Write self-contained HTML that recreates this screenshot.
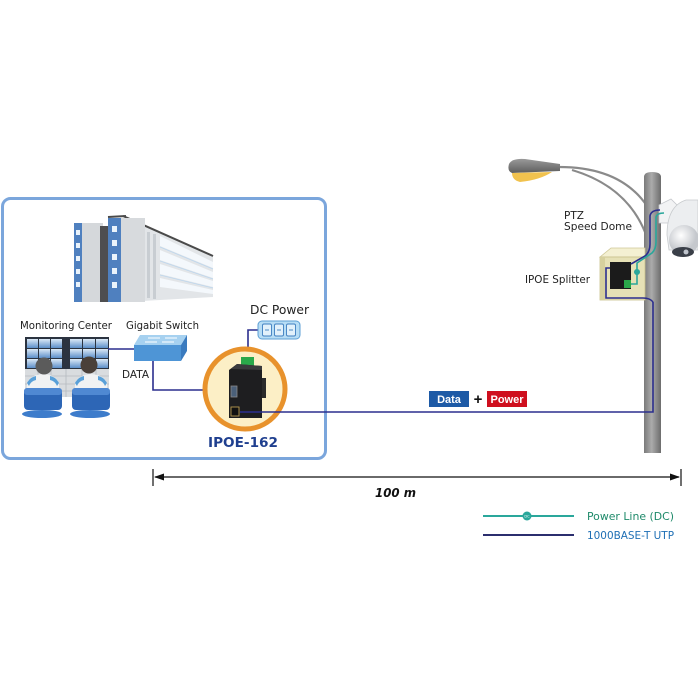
<!DOCTYPE html>
<html><head><meta charset="utf-8">
<style>html,body{margin:0;padding:0;background:#fff;}svg{display:block}</style>
</head><body>
<svg width="698" height="698" viewBox="0 0 698 698" xmlns="http://www.w3.org/2000/svg" font-family="'DejaVu Sans','Liberation Sans',sans-serif">
<defs>
 <linearGradient id="pole" x1="0" x2="1"><stop offset="0" stop-color="#7a7a7a"/><stop offset="0.45" stop-color="#ababab"/><stop offset="1" stop-color="#6c6c6c"/></linearGradient>
 <linearGradient id="scr" x1="0" y1="0" x2="0" y2="1"><stop offset="0" stop-color="#dbe9f7"/><stop offset="1" stop-color="#5d8fc9"/></linearGradient>
 <radialGradient id="dome" cx="0.4" cy="0.35"><stop offset="0" stop-color="#ffffff"/><stop offset="1" stop-color="#c5c8cd"/></radialGradient>
 <linearGradient id="lamp" x1="0" y1="0" x2="0" y2="1"><stop offset="0" stop-color="#9a9a9a"/><stop offset="1" stop-color="#5e5e5e"/></linearGradient>
</defs>

<!-- Left box -->
<rect x="2.5" y="198.5" width="323" height="260" rx="8" fill="#fff" stroke="#7ba6dc" stroke-width="3"/>

<!-- Building -->
<rect x="74" y="223" width="29" height="79" fill="#d5d8db"/>
<rect x="74" y="223" width="8" height="79" fill="#4f80bf"/>
<g fill="#eaf3fb"><rect x="76" y="230" width="4" height="5"/><rect x="76" y="243" width="4" height="5"/><rect x="76" y="256" width="4" height="5"/><rect x="76" y="269" width="4" height="5"/><rect x="76" y="282" width="4" height="5"/></g>
<rect x="100" y="226" width="9" height="76" fill="#4e4e50"/>
<polygon points="125,216 213,256 213,297 125,302" fill="#e2e5e8"/>
<g fill="#f4f8fc"><polygon points="160,236 213,262 213,268 160,246"/><polygon points="160,250 213,272 213,278 160,260"/><polygon points="160,264 213,281 213,287 160,274"/><polygon points="160,278 213,290 213,294 160,287"/></g>
<g stroke="#bcd6ee" stroke-width="0.8"><line x1="160" y1="247" x2="213" y2="269"/><line x1="160" y1="261" x2="213" y2="279"/><line x1="160" y1="275" x2="213" y2="288"/></g>
<g fill="#c8cdd2"><rect x="147" y="232" width="3" height="66"/><rect x="153" y="234" width="3" height="65"/></g>
<polyline points="123,216 213,256" fill="none" stroke="#4a4a4a" stroke-width="2"/>
<rect x="108" y="218" width="37" height="84" fill="#d7dadd"/>
<rect x="108" y="218" width="13" height="84" fill="#4f80bf"/>
<g fill="#eaf3fb"><rect x="112" y="226" width="5" height="6"/><rect x="112" y="240" width="5" height="6"/><rect x="112" y="254" width="5" height="6"/><rect x="112" y="268" width="5" height="6"/><rect x="112" y="282" width="5" height="6"/></g>
<line x1="108" y1="217" x2="126" y2="216" stroke="#4a4a4a" stroke-width="2"/>

<!-- Labels left -->
<text x="20" y="329" font-size="10.5" fill="#222" textLength="92" lengthAdjust="spacingAndGlyphs">Monitoring Center</text>
<text x="126" y="329" font-size="10.5" fill="#222" textLength="73" lengthAdjust="spacingAndGlyphs">Gigabit Switch</text>
<text x="250" y="314" font-size="12" fill="#222" textLength="59" lengthAdjust="spacingAndGlyphs">DC Power</text>
<text x="122" y="378" font-size="10.5" fill="#222" textLength="27" lengthAdjust="spacingAndGlyphs">DATA</text>
<text x="208" y="447" font-size="13.5" font-weight="bold" fill="#1f3f8f" textLength="70" lengthAdjust="spacingAndGlyphs">IPOE-162</text>

<!-- Monitor wall -->
<rect x="25" y="337" width="84" height="60" fill="#d9dcdf"/>
<rect x="25" y="337" width="84" height="32" fill="#2b3340"/>
<g fill="url(#scr)">
 <rect x="27" y="339" width="11" height="9"/><rect x="39" y="339" width="11" height="9"/><rect x="51" y="339" width="11" height="9"/>
 <rect x="27" y="349" width="11" height="9"/><rect x="39" y="349" width="11" height="9"/><rect x="51" y="349" width="11" height="9"/>
 <rect x="27" y="359" width="11" height="9"/><rect x="39" y="359" width="11" height="9"/><rect x="51" y="359" width="11" height="9"/>
 <rect x="70" y="339" width="12" height="9"/><rect x="83" y="339" width="12" height="9"/><rect x="96" y="339" width="12" height="9"/>
 <rect x="70" y="349" width="12" height="9"/><rect x="83" y="349" width="12" height="9"/><rect x="96" y="349" width="12" height="9"/>
 <rect x="70" y="359" width="12" height="9"/><rect x="83" y="359" width="12" height="9"/><rect x="96" y="359" width="12" height="9"/>
</g>
<g stroke="#b5babf" stroke-width="0.8">
 <line x1="25" y1="376" x2="109" y2="376"/><line x1="25" y1="384" x2="109" y2="384"/><line x1="25" y1="391" x2="109" y2="391"/>
 <line x1="38" y1="369" x2="38" y2="397"/><line x1="51" y1="369" x2="51" y2="397"/><line x1="66" y1="369" x2="66" y2="397"/><line x1="82" y1="369" x2="82" y2="397"/><line x1="96" y1="369" x2="96" y2="397"/>
</g>
<!-- people -->
<g>
 <ellipse cx="42" cy="414" rx="20" ry="4" fill="#3d7ccb"/>
 <path d="M27,400 L27,384 Q29,375 43,374 Q57,375 59,384 L59,400 Z" fill="#f1f2f3"/>
 <path d="M27,383 Q30,377 36,376 L36,380 Q31,381 29,386 Z" fill="#5aa0d8"/>
 <path d="M59,383 Q56,377 50,376 L50,380 Q55,381 57,386 Z" fill="#5aa0d8"/>
 <rect x="24" y="388" width="38" height="22" rx="4" fill="#2d66b6"/>
 <rect x="24" y="388" width="38" height="7" rx="3" fill="#4f88d2"/>
 <circle cx="44" cy="366" r="8.5" fill="#5b5b5b"/>
</g>
<g>
 <ellipse cx="90" cy="414" rx="20" ry="4" fill="#3d7ccb"/>
 <path d="M75,400 L75,384 Q77,375 91,374 Q105,375 107,384 L107,400 Z" fill="#f1f2f3"/>
 <path d="M75,383 Q78,377 84,376 L84,380 Q79,381 77,386 Z" fill="#5aa0d8"/>
 <path d="M107,383 Q104,377 98,376 L98,380 Q103,381 105,386 Z" fill="#5aa0d8"/>
 <rect x="72" y="388" width="38" height="22" rx="4" fill="#2d66b6"/>
 <rect x="72" y="388" width="38" height="7" rx="3" fill="#4f88d2"/>
 <circle cx="89" cy="365" r="8.5" fill="#4a4039"/>
</g>

<!-- wires left -->
<g fill="none" stroke="#2b2e8e" stroke-width="1.6">
 <line x1="108" y1="349" x2="135" y2="349"/>
 <polyline points="153,361 153,390 234,390"/>
 <polyline points="259,330 248,330 248,360"/>
</g>

<!-- Switch -->
<polygon points="140,335 187,335 181,345 134,345" fill="#a6d1f0"/>
<rect x="134" y="345" width="47" height="16" fill="#4e95d6"/>
<polygon points="181,345 187,335 187,351 181,361" fill="#3a7bbf"/>
<g stroke="#fff" stroke-width="1"><line x1="148" y1="338" x2="160" y2="338"/><line x1="162" y1="342" x2="174" y2="342"/><line x1="165" y1="338" x2="177" y2="338"/><line x1="145" y1="342" x2="157" y2="342"/></g>

<!-- DC Power block -->
<rect x="258" y="321" width="42" height="18" rx="4" fill="#b7ddf5" stroke="#5d9fd4" stroke-width="1"/>
<g fill="#e2f1fb" stroke="#3f7fc0" stroke-width="0.9">
 <rect x="262.5" y="324" width="9" height="12" rx="1.5"/><rect x="274.5" y="324" width="9" height="12" rx="1.5"/><rect x="286.5" y="324" width="9" height="12" rx="1.5"/>
</g>
<g stroke="#3f7fc0" stroke-width="0.9"><line x1="265" y1="330" x2="269" y2="330"/><line x1="277" y1="330" x2="281" y2="330"/><line x1="289" y1="330" x2="293" y2="330"/></g>

<!-- Device circle -->
<circle cx="245" cy="389" r="40" fill="#fcefc6" stroke="#e8922c" stroke-width="5"/>
<rect x="241" y="357" width="13" height="9" fill="#2aa84a"/>
<polygon points="229,370 237,364 262,366 262,418 229,418" fill="#1e1e20"/>
<polygon points="237,364 262,366 262,370 231,369" fill="#3a3a3d"/>
<rect x="262" y="378" width="4" height="20" fill="#2b2b2b"/>
<rect x="231" y="386" width="6" height="11" fill="#4b6079" stroke="#8a8a8a" stroke-width="0.8"/>
<rect x="231" y="407" width="8" height="9" fill="#111" stroke="#b89a50" stroke-width="0.9"/>

<!-- Street light -->
<g fill="none" stroke="#8a8a8a" stroke-width="2.2">
 <path d="M556,167 Q620,166 647,206"/>
 <path d="M572,170 Q626,186 645,232"/>
</g>
<path d="M509,164 Q512,158 525,159 L560,164 L560,171 L512,173 Q507,171 509,164 Z" fill="url(#lamp)"/>
<path d="M512,173 L552,172 Q540,180 520,182 Q512,180 512,173 Z" fill="#f1c24e"/>

<!-- Pole -->
<path d="M644,177 Q644,172 652,172 Q661,172 661,177 L661,453 L644,453 Z" fill="url(#pole)"/>

<!-- Splitter box -->
<polygon points="600,257 611,248 645,248 645,257" fill="#f4f0d2" stroke="#cfc898" stroke-width="0.8"/>
<rect x="600" y="257" width="45" height="43" fill="#e6e1b6" stroke="#c9c28c" stroke-width="0.8"/>
<rect x="600" y="257" width="5" height="43" fill="#d6d09e"/>
<rect x="610" y="262" width="21" height="27" fill="#1b1b1b"/>
<rect x="624" y="280" width="7" height="8" fill="#2aa84a"/>

<!-- Camera -->
<polygon points="659,205 671,199 677,205 671,223 659,223" fill="#f2f3f4" stroke="#c5c8cc" stroke-width="0.8"/>
<path d="M667,235 Q667,206 686,200 L698,200 L698,250 L669,250 Z" fill="#eceef0" stroke="#c7cacd" stroke-width="0.8"/>
<circle cx="684" cy="240" r="15" fill="url(#dome)"/>
<ellipse cx="683" cy="252" rx="11" ry="5" fill="#3a3f48"/>
<circle cx="686" cy="252" r="2.5" fill="#bfc4cc"/>

<!-- Cables on pole -->
<g fill="none" stroke="#2b2e8e" stroke-width="1.6">
 <polyline points="240,412 653,412 653,302"/>
 <path d="M653,302 Q650,298 643,298 L606,298 L606,268 L610,268"/>
 <path d="M631,264 L645,256 Q650,252 650,244 L650,216 Q651,210 660,210"/>
</g>
<g fill="none" stroke="#2aa79b" stroke-width="1.6">
 <path d="M631,284 L637,284 L637,263 L652,253 Q656,249 656,242 L656,217 Q657,213 664,213"/>
</g>
<circle cx="637" cy="272" r="3" fill="#2aa79b"/>

<!-- Right labels -->
<text x="564" y="219" font-size="10.5" fill="#222">PTZ</text>
<text x="564" y="230" font-size="10.5" fill="#222" textLength="68" lengthAdjust="spacingAndGlyphs">Speed Dome</text>
<text x="525" y="283" font-size="10.5" fill="#222" textLength="65" lengthAdjust="spacingAndGlyphs">IPOE Splitter</text>

<!-- Data + Power -->
<rect x="429" y="391" width="40" height="16" fill="#1d5aa6"/>
<text x="449" y="403" font-size="11" font-family="'Liberation Sans',sans-serif" font-weight="bold" fill="#fff" text-anchor="middle">Data</text>
<text x="478" y="404" font-size="15" font-family="'Liberation Sans',sans-serif" font-weight="bold" fill="#111" text-anchor="middle">+</text>
<rect x="487" y="391" width="40" height="16" fill="#cf0f1e"/>
<text x="507" y="403" font-size="11" font-family="'Liberation Sans',sans-serif" font-weight="bold" fill="#fff" text-anchor="middle">Power</text>

<!-- 100 m arrow -->
<g stroke="#111" stroke-width="1.2">
 <line x1="155" y1="477" x2="679" y2="477"/>
 <line x1="153" y1="469" x2="153" y2="486"/>
 <line x1="681" y1="469" x2="681" y2="486"/>
</g>
<polygon points="154,477 164,473.5 164,480.5" fill="#111"/>
<polygon points="680,477 670,473.5 670,480.5" fill="#111"/>
<text x="375" y="497" font-size="12" font-weight="bold" font-style="italic" fill="#111" textLength="41" lengthAdjust="spacingAndGlyphs">100 m</text>

<!-- Legend -->
<line x1="483" y1="516" x2="574" y2="516" stroke="#2aa79b" stroke-width="2"/>
<circle cx="527" cy="516" r="4.5" fill="#2aa79b"/>
<text x="527" y="517.5" font-size="3.5" fill="#fff" text-anchor="middle">DC</text>
<text x="587" y="520" font-size="10.5" fill="#1f8a6a" textLength="87" lengthAdjust="spacingAndGlyphs">Power Line (DC)</text>
<line x1="483" y1="535" x2="574" y2="535" stroke="#2b2e6e" stroke-width="2"/>
<text x="587" y="539" font-size="10.5" fill="#1e6fb5" textLength="87" lengthAdjust="spacingAndGlyphs">1000BASE-T UTP</text>
</svg>
</body></html>
